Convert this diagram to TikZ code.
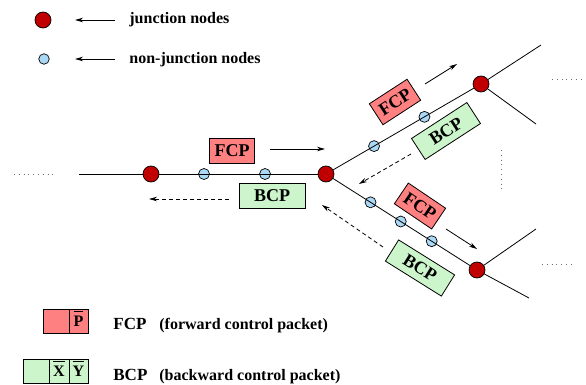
\documentclass[tikz,border=0pt]{standalone}
\usepackage{fontspec}
\setmainfont{Liberation Serif}
\usetikzlibrary{arrows.meta,calc}
\definecolor{junc}{RGB}{192,0,0}
\definecolor{nonjunc}{RGB}{170,216,245}
\definecolor{fcpred}{RGB}{255,128,128}
\definecolor{bcpgreen}{RGB}{204,245,204}
\definecolor{dotgray}{RGB}{110,110,110}
% letter with a heavy bar above it
\newcommand\overbarred[1]{\setbox0\hbox{#1}\rlap{\raisebox{14pt}[0pt][0pt]{\rule{\wd0}{1.4pt}}}\box0}

\begin{document}
\begin{tikzpicture}[x=1pt,y=-1pt,line width=0.8pt,
  junction/.style={circle,draw,line width=0.7pt,fill=junc,minimum size=16pt,inner sep=0pt},
  relay/.style={circle,draw,line width=0.7pt,fill=nonjunc,minimum size=11pt,inner sep=0pt},
  boxfont/.style={font=\fontsize{18}{18}\selectfont\bfseries},
  fcp/.style={draw,fill=fcpred,minimum width=45pt,minimum height=25pt,inner sep=0pt,boxfont},
  bcp/.style={draw,fill=bcpgreen,minimum width=66pt,minimum height=25pt,inner sep=0pt,boxfont},
  flow/.style={-{Stealth[length=8pt,width=4.5pt,inset=2.5pt]}},
  back/.style={flow,dashed,dash pattern=on 4pt off 3pt},
  dotline/.style={draw=dotgray,line width=0.7pt,dash pattern=on 0.8pt off 4pt},
  legendtext/.style={anchor=base west,inner sep=0pt,font=\fontsize{16}{16}\selectfont\bfseries},
  cell/.style={draw,minimum height=24pt,inner sep=0pt,font=\fontsize{16}{16}\selectfont\bfseries},
]
\useasboundingbox (0,0) rectangle (586,385);

% ---- legend: node kinds
\node[junction] (kj) at (43,20) {};
\node[relay,minimum size=10.5pt] (kn) at (44,59) {};
\coordinate (kja) at (115,20);
\coordinate (kjb) at (75,20);
\coordinate (kna) at (115,59);
\coordinate (knb) at (75,59);
\draw[flow] (kja) -- (kjb);
\draw[flow] (kna) -- (knb);
\node[legendtext] (tj) at (129,24) {junction nodes};
\node[legendtext] (tn) at (129,64) {non-junction nodes};

% ---- network nodes
\coordinate (west) at (79,174);
\node[junction] (J1) at (151,174) {};
\node[junction] (J2) at (326,174) {};
\node[junction] (J3) at (481,84) {};
\node[junction] (J4) at (477,270) {};
\coordinate (e1) at (541,45);
\coordinate (e2) at (536,124);
\coordinate (e3) at (536,229);
\coordinate (e4) at (529,298);

\node[relay] (n1) at (204,174) {};
\node[relay] (n2) at (265,174) {};
\node[relay] (n3) at ($(J2)!0.31!(J3)$) {};
\node[relay] (n4) at ($(J2)!0.635!(J3)$) {};
\node[relay] (n5) at ($(J2)!0.295!(J4)$) {};
\node[relay] (n6) at ($(J2)!0.495!(J4)$) {};
\node[relay] (n7) at ($(J2)!0.70!(J4)$) {};

% ---- links
\draw (west) -- (J1);
\draw (J1) -- (J2);
\draw (J2) -- (J3);
\draw (J2) -- (J4);
\draw (J3) -- (e1);
\draw (J3) -- (e2);
\draw (J4) -- (e3);
\draw (J4) -- (e4);

% ---- continuation dots
\coordinate (d1a) at (14,174);   \coordinate (d1b) at (57,174);
\coordinate (d2a) at (552,79);   \coordinate (d2b) at (584,79);
\coordinate (d3a) at (501,150);  \coordinate (d3b) at (501,193);
\coordinate (d4a) at (542,264);  \coordinate (d4b) at (574,264);
\draw[dotline] (d1a) -- (d1b);
\draw[dotline] (d2a) -- (d2b);
\draw[dotline] (d3a) -- (d3b);
\draw[dotline] (d4a) -- (d4b);

% ---- control packets on the links
\node[fcp] (f1) at (232,151) {FCP};
\node[bcp] (b1) at (272,196) {BCP};
\node[fcp,rotate=33] (f2) at (395,102) {FCP};
\node[bcp,rotate=33] (b2) at (446,131) {BCP};
\node[fcp,rotate=-34] (f3) at (420,206) {FCP};
\node[bcp,rotate=-32] (b3) at (420,268) {BCP};

% ---- packet directions
\coordinate (a1s) at (270,149);  \coordinate (a1e) at (325,149);
\coordinate (a2s) at (229,199);  \coordinate (a2e) at (149,199);
\coordinate (a3s) at (425,84);   \coordinate (a3e) at (457,64);
\coordinate (a4s) at (411,154);  \coordinate (a4e) at (359,184);
\coordinate (a5s) at (446,229);  \coordinate (a5e) at (477,249);
\coordinate (a6s) at (383,247);  \coordinate (a6e) at (322,205);
\draw[flow] (a1s) -- (a1e);
\draw[back] (a2s) -- (a2e);
\draw[flow] (a3s) -- (a3e);
\draw[back] (a4s) -- (a4e);
\draw[flow] (a5s) -- (a5e);
\draw[back] (a6s) -- (a6e);

% ---- legend: packet formats
\node[cell,fill=fcpred,minimum width=26pt] (fc1) at (56,321) {};
\node[cell,fill=fcpred,minimum width=19pt] (fc2) at (78.5,321) {\overbarred{P}};
\node[cell,fill=bcpgreen,minimum width=26pt] (bc1) at (36,371) {};
\node[cell,fill=bcpgreen,minimum width=20pt] (bc2) at (59,371) {\overbarred{X}};
\node[cell,fill=bcpgreen,minimum width=19pt] (bc3) at (78.5,371) {\overbarred{Y}};

\node[anchor=base west,inner sep=0pt,font=\fontsize{17}{17}\selectfont\bfseries] (lf) at (113,329) {FCP};
\node[legendtext] (lfd) at (159,329) {(forward control packet)};
\node[anchor=base west,inner sep=0pt,font=\fontsize{17}{17}\selectfont\bfseries] (lb) at (113,380) {BCP};
\node[legendtext] (lbd) at (159,380) {(backward control packet)};
\end{tikzpicture}
\end{document}
